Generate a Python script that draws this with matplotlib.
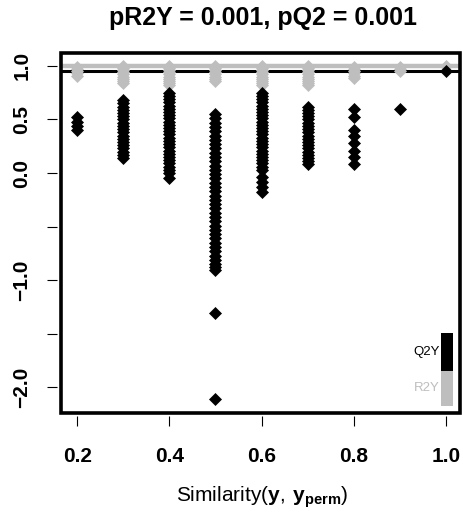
import matplotlib
matplotlib.use("Agg")
import matplotlib.pyplot as plt
from matplotlib.patches import Rectangle

plt.rcParams["font.family"] = ["Liberation Sans", "DejaVu Sans"]
plt.rcParams["mathtext.fontset"] = "custom"
plt.rcParams["mathtext.rm"] = "Liberation Sans"
plt.rcParams["mathtext.bf"] = "Liberation Sans:bold"

# model values (horizontal lines)
r2y_model = 1.0
q2y_model = 0.955

# permutation results: similarity -> R2Y values (grey)
r2y_perm = {
    0.2: [0.99, 0.97, 0.95, 0.93, 0.91],
    0.3: [1.0, 0.98, 0.96, 0.94, 0.92, 0.90, 0.88, 0.86, 0.84],
    0.4: [1.0, 0.98, 0.96, 0.94, 0.92, 0.90, 0.88, 0.86, 0.84, 0.82],
    0.5: [1.0, 0.98, 0.96, 0.94, 0.92, 0.90, 0.88, 0.86],
    0.6: [1.0, 0.98, 0.96, 0.94, 0.92, 0.90, 0.88, 0.86, 0.84, 0.82],
    0.7: [1.0, 0.98, 0.96, 0.94, 0.92, 0.90, 0.88, 0.86, 0.84, 0.82],
    0.8: [0.99, 0.97, 0.95, 0.93, 0.91, 0.89],
    0.9: [0.99, 0.97, 0.95],
    1.0: [1.0],
}

# permutation results: similarity -> Q2Y values (black)
q2y_perm = {
    0.2: [0.52, 0.48, 0.44, 0.40],
    0.3: [0.68, 0.65, 0.62, 0.59, 0.56, 0.53, 0.50, 0.47, 0.44, 0.41, 0.38,
          0.35, 0.32, 0.29, 0.26, 0.23, 0.20, 0.17, 0.14],
    0.4: [0.75, 0.72, 0.69, 0.66, 0.63, 0.60, 0.57, 0.54, 0.51, 0.48, 0.45,
          0.42, 0.39, 0.36, 0.33, 0.30, 0.27, 0.24, 0.21, 0.18, 0.15, 0.12,
          0.09, 0.06, 0.03, 0.0, -0.05],
    0.5: [0.55, 0.51, 0.47, 0.43, 0.39, 0.35, 0.31, 0.27, 0.23, 0.19, 0.15,
          0.11, 0.07, 0.03, -0.01, -0.05, -0.09, -0.13, -0.17, -0.21, -0.25,
          -0.29, -0.33, -0.37, -0.41, -0.45, -0.49, -0.53, -0.57, -0.61,
          -0.65, -0.69, -0.73, -0.77, -0.81, -0.85, -0.88, -0.90, -1.31, -2.11],
    0.6: [0.75, 0.72, 0.69, 0.66, 0.63, 0.60, 0.57, 0.54, 0.51, 0.48, 0.45,
          0.42, 0.39, 0.36, 0.33, 0.30, 0.27, 0.24, 0.21, 0.18, 0.15, 0.12,
          0.09, 0.06, 0.03, -0.04, -0.08, -0.13, -0.18],
    0.7: [0.62, 0.59, 0.56, 0.53, 0.50, 0.47, 0.44, 0.41, 0.38, 0.35, 0.32,
          0.29, 0.26, 0.23, 0.20, 0.17, 0.14, 0.11, 0.08],
    0.8: [0.60, 0.52, 0.40, 0.35, 0.28, 0.21, 0.15, 0.08],
    0.9: [0.60],
    1.0: [0.95],
}

x_ticks = [0.2, 0.4, 0.6, 0.8, 1.0]
y_ticks = [1.0, 0.5, 0.0, -0.5, -1.0, -1.5, -2.0]
y_labels = ["1.0", "0.5", "0.0", "", "\u22121.0", "", "\u22122.0"]
title = "pR2Y = 0.001, pQ2 = 0.001"

grey = "#BEBEBE"

fig = plt.figure(figsize=(4.64, 5.12), dpi=100)
ax = fig.add_axes([0.1315, 0.193, 0.8595, 0.7035])

# R-like frame: ticks slightly detached, box drawn separately
for s in ax.spines.values():
    s.set_color("none")
ax.spines["left"].set_position(("outward", 3))
ax.spines["bottom"].set_position(("outward", 2))
ax.add_patch(Rectangle((0, 0), 1, 1, transform=ax.transAxes, fill=False,
                       lw=2.6, ec="black", clip_on=False, zorder=5))

ax.axhline(q2y_model, color="black", lw=2.2, zorder=1)
ax.axhline(r2y_model, color=grey, lw=3.2, zorder=2)

for sim, vals in r2y_perm.items():
    ax.plot([sim] * len(vals), vals, ls="none", marker="D", ms=6,
            color=grey, mec=grey, mew=0.5, zorder=3)
for sim, vals in q2y_perm.items():
    ax.plot([sim] * len(vals), vals, ls="none", marker="D", ms=6,
            color="black", mec="black", mew=0.5, zorder=4)

ax.set_xlim(0.165, 1.03)
ax.set_ylim(-2.24, 1.12)
ax.tick_params(axis="x", length=7.5, width=0.8, pad=15, labelsize=15)
ax.tick_params(axis="y", length=7.5, width=0.8, pad=11, labelsize=15,
               labelrotation=90)
ax.set_xticks(x_ticks)
ax.set_xticklabels([f"{t:.1f}" for t in x_ticks], fontweight="bold")
ax.set_yticks(y_ticks)
ax.set_yticklabels(y_labels, fontweight="bold", va="center")

# legend boxes (bottom right)
ax.add_patch(Rectangle((0.952, 0.117), 0.03, 0.105, transform=ax.transAxes,
                       fc="black", ec="none", zorder=5))
ax.add_patch(Rectangle((0.952, 0.019), 0.03, 0.098, transform=ax.transAxes,
                       fc=grey, ec="none", zorder=5))
ax.text(0.95, 0.169, "Q2Y", transform=ax.transAxes, ha="right", va="center",
        fontsize=9.5, color="black")
ax.text(0.95, 0.069, "R2Y", transform=ax.transAxes, ha="right", va="center",
        fontsize=9.5, color=grey)

fig.text(0.567, 0.965, title, ha="center", va="center", fontsize=18,
         fontweight="bold")
fig.text(0.565, 0.03, r"Similarity$(\mathbf{y},\,\mathbf{y}_{\mathbf{perm}})$",
         ha="center", va="center", fontsize=15)

fig.savefig("out.png", dpi=100)
